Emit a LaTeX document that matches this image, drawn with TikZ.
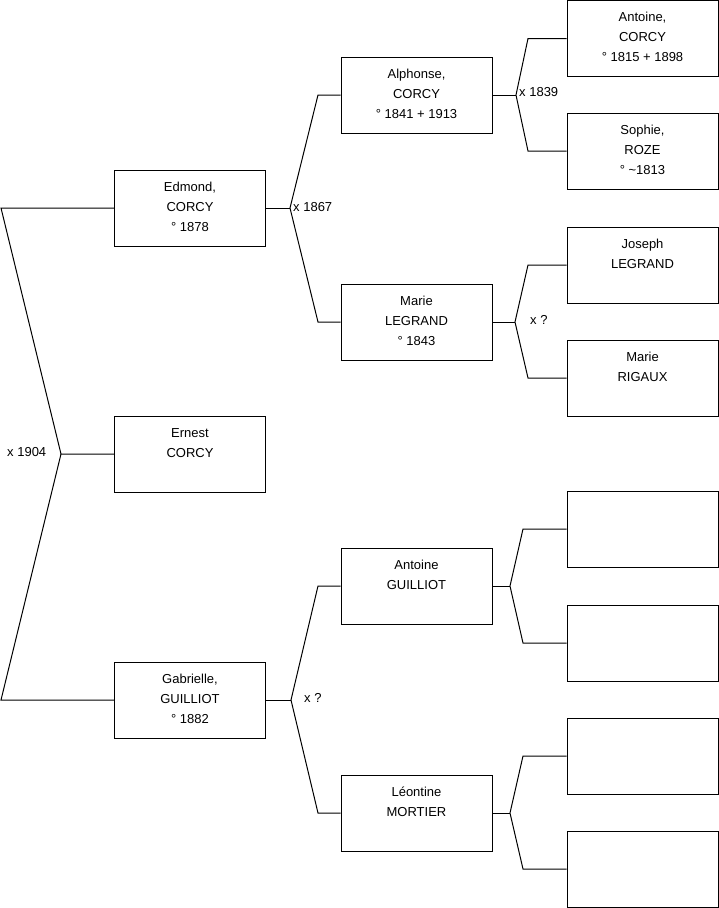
\documentclass[tikz,border=0pt]{standalone}
\usepackage{fontspec}
\setmainfont{Liberation Sans}
\newcommand{\pers}[1]{\parbox[c][76pt][t]{151pt}{\centering\fontsize{13pt}{20pt}\selectfont\rule{0pt}{21pt}#1\par}}
\begin{document}
\begin{tikzpicture}[x=1pt,y=-1pt,
  person/.style={draw=black,line width=1pt,rectangle,inner sep=0pt,minimum width=151pt,minimum height=76pt},
  link/.style={draw=black,line width=1pt},
  marr/.style={anchor=west,inner sep=0pt,font=\fontsize{13pt}{15pt}\selectfont}]
\useasboundingbox (0,0) rectangle (719,908);
% level 1
\node[person] (edmond) at (190,208) {\pers{Edmond,\\CORCY\\° 1878}};
\node[person] (ernest) at (190,454) {\pers{Ernest\\CORCY}};
\node[person] (gabrielle) at (190,700) {\pers{Gabrielle,\\GUILLIOT\\° 1882}};
% level 2
\node[person] (alphonse) at (416.5,95) {\pers{Alphonse,\\CORCY\\° 1841 + 1913}};
\node[person] (mariel) at (416.5,322) {\pers{Marie\\LEGRAND\\° 1843}};
\node[person] (antoineg) at (416.5,586) {\pers{Antoine\\GUILLIOT}};
\node[person] (leontine) at (416.5,813) {\pers{Léontine\\MORTIER}};
% level 3
\node[person] (antoinec) at (642.5,38.5) {\pers{Antoine,\\CORCY\\° 1815 + 1898}};
\node[person] (sophie) at (642.5,151) {\pers{Sophie,\\ROZE\\° \textasciitilde1813}};
\node[person] (joseph) at (642.5,265) {\pers{Joseph\\LEGRAND}};
\node[person] (marier) at (642.5,378) {\pers{Marie\\RIGAUX}};
\node[person] (e1) at (642.5,529) {};
\node[person] (e2) at (642.5,643) {};
\node[person] (e3) at (642.5,756) {};
\node[person] (e4) at (642.5,869) {};
% junction coordinates
\coordinate (r1) at (1,208);
\coordinate (r2) at (61,454);
\coordinate (r3) at (1,700);
\coordinate (j1) at (290,208);
\coordinate (j1a) at (318,95);
\coordinate (j1b) at (318,322);
\coordinate (j2) at (516,95);
\coordinate (j2a) at (528,38.5);
\coordinate (j2b) at (528,151);
\coordinate (j3) at (515,322);
\coordinate (j3a) at (528,265);
\coordinate (j3b) at (528,378);
\coordinate (j4) at (291,700);
\coordinate (j4a) at (318,586);
\coordinate (j4b) at (318,813);
\coordinate (j5) at (510,586);
\coordinate (j5a) at (523,529);
\coordinate (j5b) at (523,643);
\coordinate (j6) at (510,813);
\coordinate (j6a) at (523,756);
\coordinate (j6b) at (523,869);
% connectors
\draw[link] (edmond.west) -- (r1) -- (r2) -- (ernest.west);
\draw[link] (r2) -- (r3) -- (gabrielle.west);
\draw[link] (edmond.east) -- (j1);
\draw[link] (alphonse.west) -- (j1a) -- (j1) -- (j1b) -- (mariel.west);
\draw[link] (alphonse.east) -- (j2);
\draw[link] (antoinec.west) -- (j2a) -- (j2) -- (j2b) -- (sophie.west);
\draw[link] (mariel.east) -- (j3);
\draw[link] (joseph.west) -- (j3a) -- (j3) -- (j3b) -- (marier.west);
\draw[link] (gabrielle.east) -- (j4);
\draw[link] (antoineg.west) -- (j4a) -- (j4) -- (j4b) -- (leontine.west);
\draw[link] (antoineg.east) -- (j5);
\draw[link] (e1.west) -- (j5a) -- (j5) -- (j5b) -- (e2.west);
\draw[link] (leontine.east) -- (j6);
\draw[link] (e3.west) -- (j6a) -- (j6) -- (j6b) -- (e4.west);
% marriage labels
\node[marr] (m1) at (7,452) {x 1904};
\node[marr] (m2) at (293,207) {x 1867};
\node[marr] (m3) at (519,92) {x 1839};
\node[marr] (m4) at (530,320) {x ?};
\node[marr] (m5) at (304,698) {x ?};
\end{tikzpicture}
\end{document}
